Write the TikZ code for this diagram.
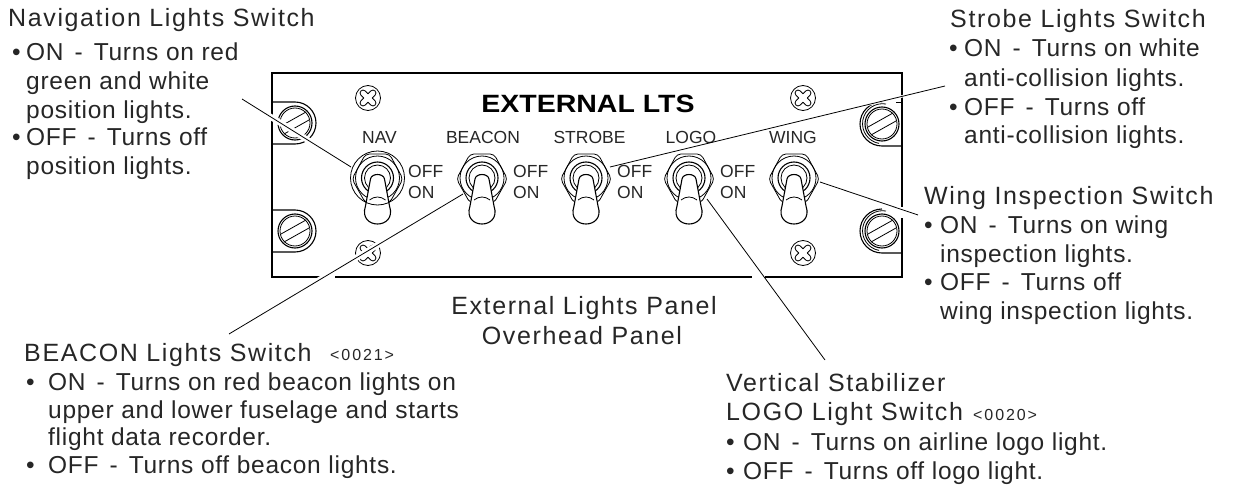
\documentclass[tikz,border=0pt]{standalone}
\usepackage{fontspec}
\setmainfont{Liberation Sans}
\newfontfamily\labelfont[LetterSpace=6.5]{Liberation Sans}
\newfontfamily\bodyfont[LetterSpace=3]{Liberation Sans}
\newfontfamily\reffont[LetterSpace=12]{Liberation Sans}
\newfontfamily\titlefont[FakeStretch=1.14]{Liberation Sans}
\tikzset{
  panel line/.style={line width=1.4pt},
  thin part/.style={line width=0.8pt},
  leader/.style={line width=0.8pt},
  leader halo/.style={white,line width=6pt},
  label/.style={anchor=base west,inner sep=0,font=\labelfont\fontsize{25}{28}\selectfont,text=black!85},
  body label/.style={anchor=base west,inner sep=0,font=\bodyfont\fontsize{24.5}{28}\selectfont,text=black!85},
  ref label/.style={anchor=base west,inner sep=0,font=\reffont\fontsize{16}{18}\selectfont,text=black!85},
  small label/.style={anchor=base,inner sep=0,font=\fontsize{17.5}{20}\selectfont,text=black!85},
}
\newcommand{\bul}[1]{\makebox[#1pt][l]{\textbullet}}
\newcommand{\dsh}{\hspace{11pt}-\hspace{11pt}}
\newcommand{\toggleswitch}[3]{% centre x, centre y, name
  \coordinate (#3) at (#1,#2);
  \begin{scope}[shift={(#3)},thin part]
    \draw[fill=white,rounded corners=4pt] (-25.5,1) -- (-12,-24) -- (12,-24) -- (25.5,1) -- (12,25) -- (-12,25) -- cycle;
    \draw (0,0) circle (22);
    \draw[line width=1.1pt] (0,0) circle (16);
    \draw (0,0) circle (13);
    \draw[fill=white,line width=1.1pt] (-7,1) .. controls (-6,-5) and (6,-5) .. (7,1)
      -- (12,28) .. controls (16,40) and (8,46) .. (0,46)
      .. controls (-8,46) and (-16,40) .. (-12,28) -- cycle;
    \draw (-8,22) .. controls (-3,18) and (3,18) .. (8,22);
  \end{scope}
}
\newcommand{\screwslot}{
  \draw (-14,3) -- (11,-11);
  \draw (-11,11) -- (14,-3);
}
\newcommand{\leftscrew}[3]{% centre x, centre y, name
  \coordinate (#3) at (#1,#2);
  \begin{scope}[shift={(#3)},thin part]
    \draw[line width=1.1pt] (-23,-21) -- (0,-21) arc (-90:90:21) -- (-23,21);
    \draw[line width=1.1pt] (0,0) circle (17);
    \draw (0,0) circle (15);
    \screwslot
  \end{scope}
}
\newcommand{\rightscrew}[3]{% centre x, centre y, name
  \coordinate (#3) at (#1,#2);
  \begin{scope}[shift={(#3)},thin part]
    \draw[line width=1.1pt] (0,-22) arc (270:90:22) -- (20,22);
    \draw (4,-20) arc (280:100:20);
    \draw[line width=1.1pt] (0,0) circle (17);
    \draw (0,0) circle (15);
    \screwslot
  \end{scope}
}
\newcommand{\crossscrew}[3]{% centre x, centre y, name
  \coordinate (#3) at (#1,#2);
  \begin{scope}[shift={(#3)},thin part]
    \draw (0,0) circle (12.5);
    \foreach \a in {45,135,225,315} {
      \draw[rotate=\a] (3,-3) -- (7,-3) arc (-90:90:3) -- (3,3);
    }
  \end{scope}
}
\begin{document}
\begin{tikzpicture}[x=1pt,y=-1pt]
\useasboundingbox (0,0) rectangle (1235,487);
% leader ends
\coordinate (navend) at (242,99);
\coordinate (navtip) at (351,167);
\coordinate (beaconend) at (229,334);
\coordinate (beacontip) at (463,194);
\coordinate (strobeend) at (945,86);
\coordinate (strobetip) at (610,167);
\coordinate (logoend) at (825,360);
\coordinate (logotip) at (707,199);
\coordinate (wingend) at (918,215);
\coordinate (wingtip) at (820,182);
% panel
\draw[panel line] (323,277) -- (272,277) -- (272,73) -- (902,73) -- (902,207);
\draw[panel line] (902,218) -- (902,277) -- (765,277);
\draw[panel line] (335,277) -- (752,277);
\draw[thin part] (896,102) -- (902,102);
\leftscrew{295}{123}{screwa}
\leftscrew{295}{231}{screwb}
\rightscrew{882}{124}{screwc}
\rightscrew{882}{231}{screwd}
\crossscrew{368}{98}{crossa}
\crossscrew{368}{253}{crossb}
\crossscrew{803}{98}{crossc}
\crossscrew{803}{253}{crossd}
\draw[leader halo] (navend) -- (navtip);
\draw[leader halo] (beaconend) -- (beacontip);
\draw[leader halo,line width=2.5pt] (strobeend) -- (strobetip);
% switches
\toggleswitch{377.5}{178}{nav}
\draw[thin part] (nav) circle (27);
\toggleswitch{482}{178}{beacon}
\toggleswitch{586}{178}{strobe}
\toggleswitch{689}{178}{logo}
\toggleswitch{794}{178}{wing}
% panel text
\node[anchor=base,inner sep=0,font=\titlefont\bfseries\fontsize{25}{30}\selectfont] (title) at (588,113) {EXTERNAL LTS};
\foreach \x/\t in {379.5/NAV,483/BEACON,589.5/STROBE,691/LOGO,793/WING} {
  \node[small label] (name\t) at (\x,143) {\t};
}
\foreach \x/\t in {408/a,513/b,617/c,720/d} {
  \node[small label,anchor=base west] (off\t) at (\x,177) {OFF};
  \node[small label,anchor=base west] (on\t) at (\x,198) {ON};
}
% labels
\node[label] (navtitle) at (8,27) {Navigation Lights Switch};
\node[body label] (navtext) at (12,61) {\bul{14}ON\dsh Turns on red};
\node[body label] (navtextb) at (26,90) {green and white};
\node[body label] (navtextc) at (26,118) {position lights.};
\node[body label] (navtextd) at (12,146) {\bul{14}OFF\dsh Turns off};
\node[body label] (navtexte) at (26,174) {position lights.};
\node[label] (strobetitle) at (950,28) {Strobe Lights Switch};
\node[body label] (strobetext) at (949,57) {\bul{15}ON\dsh Turns on white};
\node[body label] (strobetextb) at (964,86) {anti-collision lights.};
\node[body label] (strobetextc) at (949,115) {\bul{15}OFF\dsh Turns off};
\node[body label] (strobetextd) at (964,143) {anti-collision lights.};
\node[label] (wingtitle) at (924,204) {Wing Inspection Switch};
\node[body label] (wingtext) at (924,233) {\bul{16}ON\dsh Turns on wing};
\node[body label] (wingtextb) at (940,262) {inspection lights.};
\node[body label] (wingtextc) at (924,290) {\bul{16}OFF\dsh Turns off};
\node[body label] (wingtextd) at (940,319) {wing inspection lights.};
\node[label,anchor=base] (caption) at (584,314) {External Lights Panel};
\node[label,anchor=base] (captionb) at (582,344) {Overhead Panel};
\node[label] (beacontitle) at (24,361) {BEACON Lights Switch};
\node[ref label] (beaconref) at (330,360) {<0021>};
\node[body label] (beacontext) at (26,390) {\bul{22}ON\dsh Turns on red beacon lights on};
\node[body label] (beacontextb) at (48,418) {upper and lower fuselage and starts};
\node[body label] (beacontextc) at (48,445) {flight data recorder.};
\node[body label] (beacontextd) at (26,473) {\bul{22}OFF\dsh Turns off beacon lights.};
\node[label] (logotitle) at (726,391) {Vertical Stabilizer};
\node[label] (logotitleb) at (726,420) {LOGO Light Switch};
\node[ref label] (logoref) at (973,420) {<0020>};
\node[body label] (logotext) at (726,450) {\bul{17}ON\dsh Turns on airline logo light.};
\node[body label] (logotextb) at (726,479) {\bul{17}OFF\dsh Turns off logo light.};
% leaders
\draw[leader] (navend) -- (navtip);
\draw[leader] (beaconend) -- (beacontip);
\draw[leader] (strobeend) -- (strobetip);
\draw[leader] (logoend) -- (logotip);
\draw[leader] (wingend) -- (wingtip);
\end{tikzpicture}
\end{document}
